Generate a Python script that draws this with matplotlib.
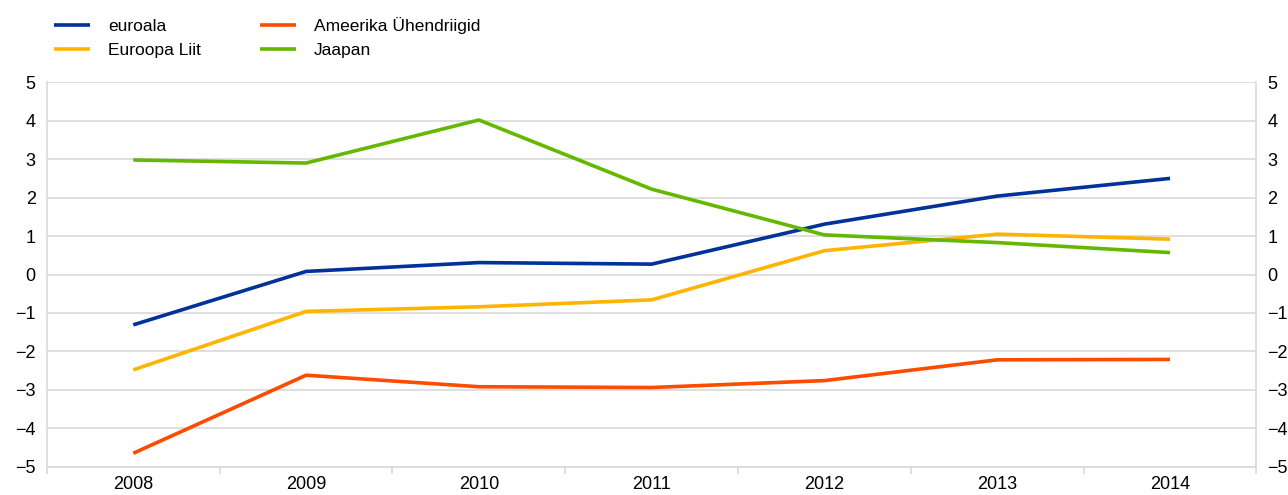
import matplotlib
matplotlib.use("Agg")
import matplotlib.pyplot as plt
from matplotlib.ticker import FixedLocator, NullFormatter

plt.rcParams['font.family'] = ['Liberation Sans', 'DejaVu Sans']

years = ["2008", "2009", "2010", "2011", "2012", "2013", "2014"]
euroala = [-1.31, 0.08, 0.31, 0.27, 1.31, 2.04, 2.50]
euroopa_liit = [-2.48, -0.96, -0.84, -0.66, 0.62, 1.05, 0.92]
usa = [-4.65, -2.62, -2.92, -2.94, -2.76, -2.22, -2.21]
jaapan = [2.98, 2.90, 4.02, 2.22, 1.03, 0.83, 0.57]

series = [
    ("euroala", euroala, "#003299"),
    ("Euroopa Liit", euroopa_liit, "#FFB400"),
    ("Ameerika Ühendriigid", usa, "#FF4B00"),
    ("Jaapan", jaapan, "#65B800"),
]

fig = plt.figure(figsize=(12.88, 4.95), dpi=100)
ax = fig.add_axes([0.0364, 0.0572, 0.9391, 0.7765])

x = list(range(len(years)))
handles = []
for name, vals, col in series:
    h, = ax.plot(x, vals, color=col, lw=2.6, label=name, solid_capstyle='butt')
    handles.append(h)

ax.set_xlim(-0.5, len(years) - 0.5)
ax.set_ylim(-5, 5)
ax.set_yticks(range(-5, 6))
ax.yaxis.grid(True, color="#d9d9d9", lw=1.2)
ax.set_axisbelow(True)

ax.set_xticks(x)
ax.set_xticklabels(years)
ax.xaxis.set_minor_locator(FixedLocator([i + 0.5 for i in range(-1, len(years))]))
ax.xaxis.set_minor_formatter(NullFormatter())
ax.tick_params(axis='x', which='major', length=0, pad=7, labelsize=13)
ax.tick_params(axis='x', which='minor', length=5, color="#d9d9d9", width=1.2)
ax.tick_params(axis='y', which='both', length=0, pad=8, labelsize=13,
               left=True, right=True, labelleft=True, labelright=True)

for s in ["left", "right", "bottom"]:
    ax.spines[s].set_color("#d9d9d9")
    ax.spines[s].set_linewidth(1.2)
ax.spines["top"].set_visible(False)

fig.legend(handles=handles, ncol=2, loc='upper left',
           bbox_to_anchor=(54 / 1288, 1 - 17 / 495), frameon=False,
           fontsize=12.5, handlelength=2.1, handletextpad=1.0,
           columnspacing=3.4, labelspacing=0.5, borderpad=0, borderaxespad=0)

fig.savefig("out.png", dpi=100)
